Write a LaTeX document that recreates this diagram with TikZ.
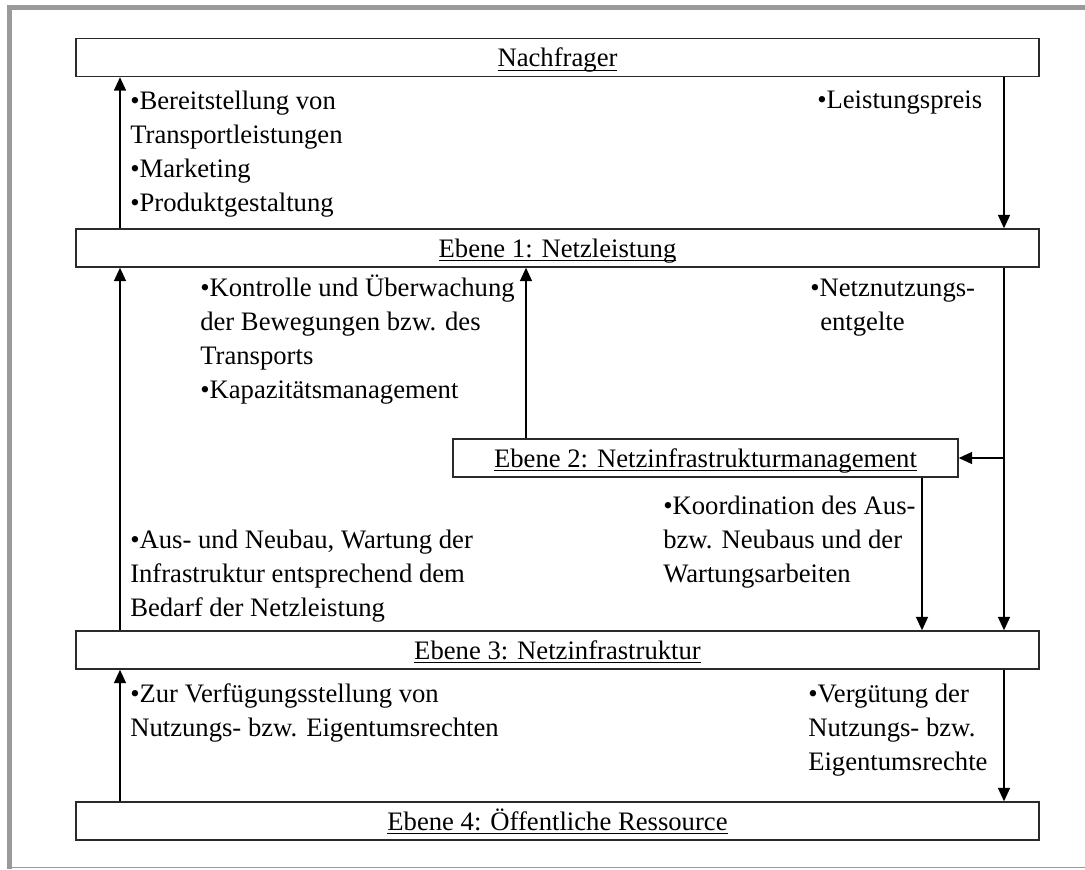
\documentclass[tikz,border=0pt]{standalone}
\usepackage{fontspec}
\setmainfont{Liberation Serif}
\usetikzlibrary{arrows.meta}
\definecolor{framegray}{HTML}{9A9A9A}
\definecolor{boxc}{HTML}{2A2A2A}
\newcommand{\ulx}[1]{\setbox0=\hbox{#1}\rlap{\rule[-3.2pt]{\wd0}{0.9pt}}\box0}
\begin{document}
\begin{tikzpicture}[x=0.75pt,y=-0.75pt,
  box/.style={draw=boxc, line width=1.1pt, fill=white, inner sep=0pt,
    minimum height=28.5pt, minimum width=722.25pt,
    text height=17.5pt, text depth=4pt,
    font=\fontsize{20}{25.5}\selectfont},
  txt/.style={anchor=north west, inner sep=0pt, align=left,
    font=\fontsize{20}{25.5}\selectfont},
  arr/.style={draw=black, line width=1pt, -{Triangle[width=9pt,length=10pt]}}]
\useasboundingbox (0,0) rectangle (1085,869);
% frame
\fill[framegray] (7,5) rectangle (1085,10);
\fill[framegray] (7,5) rectangle (12,869);
\draw[framegray, line width=1.2pt] (12,867.3) -- (1085,867.3);
% boxes
\node[box] (nach) at (557.5,57.5) {\ulx{Nachfrager}};
\node[box] (e1) at (557.5,248) {\ulx{Ebene 1: Netzleistung}};
\node[box, minimum width=378.75pt] (e2) at (705.5,458) {\ulx{Ebene 2: Netzinfrastrukturmanagement}};
\node[box] (e3) at (557.5,650) {\ulx{Ebene 3: Netzinfrastruktur}};
\node[box] (e4) at (557.5,821) {\ulx{Ebene 4: Öffentliche Ressource}};
% connector columns
\coordinate (xl) at (120,0);
\coordinate (xr) at (1004,0);
\coordinate (xm) at (526,0);
\coordinate (xk) at (922,0);
% connectors
\draw[arr] (e1.north -| xl) -- (nach.south -| xl);
\draw[arr] (nach.south -| xr) -- (e1.north -| xr);
\draw[arr] (e3.north -| xl) -- (e1.south -| xl);
\draw[arr] (e2.north -| xm) -- (e1.south -| xm);
\draw[arr] (e1.south -| xr) -- (e3.north -| xr);
\draw[arr] (e2.east -| xr) -- (e2.east);
\draw[arr] (e2.south -| xk) -- (e3.north -| xk);
\draw[arr] (e4.north -| xl) -- (e3.south -| xl);
\draw[arr] (e3.south -| xr) -- (e4.north -| xr);
% texts
\node[txt] (t1) at (130,85.2) {\strut•Bereitstellung von\\Transportleistungen\\•Marketing\\•Produktgestaltung};
\node[txt] (t2) at (817,84.2) {\strut•Leistungspreis};
\node[txt] (t3) at (200,272.2) {\strut•Kontrolle und Überwachung\\der Bewegungen bzw. des\\Transports\\•Kapazitätsmanagement};
\node[txt] (t4) at (810,272.2) {\strut•Netznutzungs-\\\hspace*{7.5pt}entgelte};
\node[txt] (t5) at (663,490.2) {\strut•Koordination des Aus-\\bzw. Neubaus und der\\Wartungsarbeiten};
\node[txt] (t6) at (130,524.2) {\strut•Aus- und Neubau, Wartung der\\Infrastruktur entsprechend dem\\Bedarf der Netzleistung};
\node[txt] (t7) at (130,678.2) {\strut•Zur Verfügungsstellung von\\Nutzungs- bzw. Eigentumsrechten};
\node[txt] (t8) at (808,678.2) {\strut•Vergütung der\\Nutzungs- bzw.\\Eigentumsrechte};
\end{tikzpicture}
\end{document}
